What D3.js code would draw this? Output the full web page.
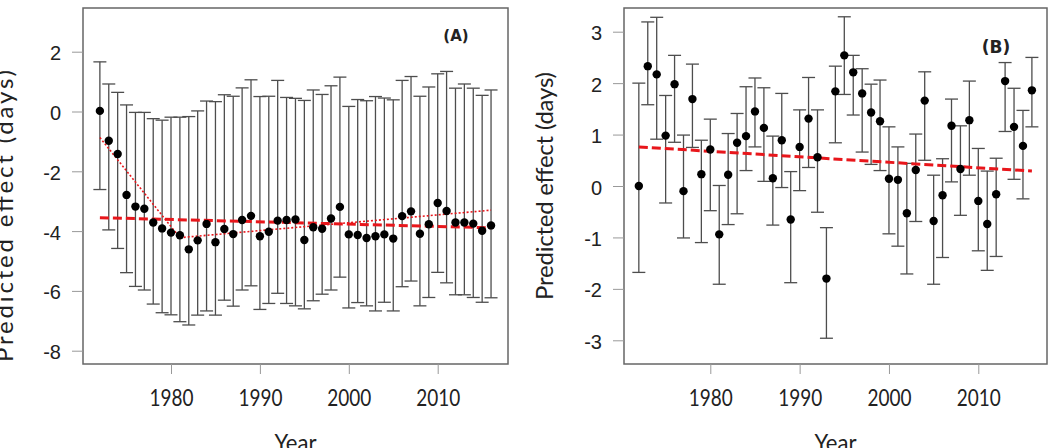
<!DOCTYPE html>
<html><head><meta charset="utf-8">
<script src="https://cdn.jsdelivr.net/npm/d3@7"></script>
<style>body{margin:0;background:#fff}svg{display:block}</style>
</head><body>
<script>
const years = d3.range(1972, 2017);
const estA = [0.02,-0.98,-1.42,-2.79,-3.18,-3.25,-3.71,-3.91,-4.05,-4.14,-4.61,-4.31,-3.76,-4.37,-3.93,-4.10,-3.63,-3.49,-4.17,-4.02,-3.65,-3.63,-3.61,-4.30,-3.87,-3.92,-3.58,-3.19,-4.11,-4.13,-4.23,-4.17,-4.11,-4.25,-3.50,-3.34,-4.09,-3.77,-3.06,-3.33,-3.71,-3.71,-3.75,-3.99,-3.81];
const hiA  = [1.66,0.92,0.64,0.22,-0.03,-0.03,-0.24,-0.29,-0.19,-0.19,-0.17,0.02,0.35,0.33,0.56,0.51,0.79,1.06,0.50,0.51,1.04,0.47,0.44,0.37,0.72,0.57,0.86,1.15,0.17,0.40,0.36,0.50,0.45,0.39,1.04,1.17,0.51,0.82,1.26,1.34,0.78,0.92,0.78,0.54,0.72];
const loA  = [-2.61,-3.96,-4.58,-5.39,-5.85,-5.97,-6.44,-6.73,-6.80,-7.03,-7.14,-6.81,-6.67,-6.81,-6.31,-6.51,-5.97,-5.83,-6.62,-6.42,-6.08,-6.42,-6.50,-6.60,-6.33,-6.11,-5.97,-5.54,-6.57,-6.39,-6.50,-6.67,-6.38,-6.67,-5.86,-5.67,-6.50,-6.22,-5.38,-5.73,-6.13,-6.13,-6.22,-6.38,-6.23];
const estB = [0.00,2.33,2.17,0.98,1.98,-0.10,1.69,0.23,0.71,-0.94,0.22,0.84,0.97,1.45,1.13,0.15,0.89,-0.65,0.76,1.31,0.56,-1.80,1.84,2.54,2.21,1.80,1.43,1.26,0.14,0.12,-0.53,0.31,1.66,-0.68,-0.18,1.17,0.33,1.28,-0.29,-0.74,-0.16,2.04,1.15,0.78,1.86];
const hiB  = [2.00,3.19,3.28,1.76,2.54,0.99,2.37,0.89,1.30,0.01,1.02,1.41,1.93,2.10,1.91,0.97,1.80,0.28,1.48,2.11,1.48,-0.81,2.33,3.29,2.54,2.28,1.98,2.06,1.15,0.76,0.44,1.01,2.22,0.21,0.53,1.69,1.17,2.04,0.73,0.29,0.54,2.40,1.90,1.47,2.50];
const loB  = [-1.68,1.58,0.91,-0.33,0.85,-1.01,0.75,-1.10,-0.48,-1.91,-0.75,-0.54,0.30,0.76,0.09,-0.76,-0.03,-1.88,-0.09,0.36,-0.51,-2.96,0.84,1.78,1.38,0.66,0.42,0.30,-0.93,-1.17,-1.71,-0.69,0.50,-1.91,-1.39,0.08,-0.57,0.21,-1.26,-1.64,-1.37,1.06,0.13,-0.25,1.15];
const trendA = [[1972,-3.55],[2016,-3.89]];
const segA   = [[1972,-0.87],[1981,-4.22],[2016,-3.30]];
const trendB = [[1972,0.76],[2016,0.29]];
const xTicks = [1980,1990,2000,2010];
const yTicksA = [-8,-6,-4,-2,0,2];
const yTicksB = [-3,-2,-1,0,1,2,3];

const W = 1048, H = 448;
const svg = d3.select("body").append("svg").attr("width", W).attr("height", H);

function panel(o) {
  const x = d3.scaleLinear().domain([1980, 2010]).range(o.xr);
  const y = d3.scaleLinear().domain(o.yd).range(o.yr);
  const g = svg.append("g");
  const eb = g.append("g").attr("stroke", "#4d4d4d").attr("stroke-width", 1.3).attr("fill", "none");
  years.forEach((yr, i) => {
    const cx = x(yr);
    eb.append("line").attr("x1", cx).attr("x2", cx).attr("y1", y(o.hi[i])).attr("y2", y(o.lo[i]));
    eb.append("line").attr("x1", cx - 6.5).attr("x2", cx + 6.5).attr("y1", y(o.hi[i])).attr("y2", y(o.hi[i]));
    eb.append("line").attr("x1", cx - 6.5).attr("x2", cx + 6.5).attr("y1", y(o.lo[i])).attr("y2", y(o.lo[i]));
  });
  const line = d3.line().x(d => x(d[0])).y(d => y(d[1]));
  o.lines.forEach(l => {
    g.append("path").attr("d", line(l.data)).attr("fill", "none")
      .attr("stroke", "#e8161b").attr("stroke-width", l.w).attr("stroke-dasharray", l.dash);
  });
  g.append("g").selectAll("circle").data(years).join("circle")
    .attr("cx", d => x(d)).attr("cy", (d, i) => y(o.est[i])).attr("r", 4.2).attr("fill", "#000");
  g.append("rect").attr("x", o.box[0]).attr("y", o.box[1])
    .attr("width", o.box[2] - o.box[0]).attr("height", o.box[3] - o.box[1])
    .attr("fill", "none").attr("stroke", "#666").attr("stroke-width", 1.5);
  const xa = g.append("g").attr("transform", `translate(0,${o.box[3]})`)
    .call(d3.axisBottom(x).tickValues(xTicks).tickFormat(d3.format("d")).tickSize(10));
  xa.select(".domain").remove();
  xa.selectAll(".tick line").attr("stroke", "#999");
  xa.selectAll(".tick text").attr("y", 42).attr("dy", 0)
    .attr("font-family", "Lato").attr("font-size", 24).attr("fill", "#222")
    .attr("textLength", 44).attr("lengthAdjust", "spacingAndGlyphs");
  const ya = g.append("g").attr("transform", `translate(${o.box[0]},0)`)
    .call(d3.axisLeft(y).tickValues(o.yt).tickFormat(d => d < 0 ? "-" + Math.abs(d) : String(d)).tickSize(11).tickPadding(11));
  ya.select(".domain").remove();
  ya.selectAll(".tick line").attr("stroke", "#999");
  ya.selectAll(".tick text").attr("font-family", "Liberation Sans").attr("font-size", 20).attr("fill", "#222").attr("dy", "0.4em");
  g.append("text").attr("x", (o.box[0] + o.box[2]) / 2).attr("y", 451).attr("text-anchor", "middle")
    .attr("font-family", "Lato").attr("font-size", 24).attr("fill", "#222")
    .attr("textLength", 42).attr("lengthAdjust", "spacingAndGlyphs").text("Year");
  g.append("text").attr("transform", `translate(${o.yt_x},${o.yt_c}) rotate(-90)`)
    .attr("text-anchor", "middle").attr("font-family", "Lato").attr("font-size", 24).attr("fill", "#222")
    .attr("textLength", o.yt_len).attr("lengthAdjust", "spacing").text("Predicted effect (days)");
  g.append("text").attr("x", o.lab[0]).attr("y", o.lab[1]).attr("text-anchor", "middle")
    .attr("font-family", "DejaVu Sans").attr("font-weight", "bold").attr("font-size", o.lab[2]).attr("fill", "#222")
    .text(o.label);
}

panel({
  xr: [171, 437.7], yd: [-8, 2], yr: [350.7, 51.7], box: [83, 8, 508, 364],
  est: estA, hi: hiA, lo: loA, yt: yTicksA,
  lines: [{data: trendA, w: 3, dash: "9,4"}, {data: segA, w: 1.6, dash: "2,2"}],
  yt_x: 13, yt_c: 216, yt_len: 292, label: "(A)", lab: [456, 41, 15]
});
panel({
  xr: [710.3, 978.3], yd: [-3, 3], yr: [340.3, 31.7], box: [624, 8, 1047, 364],
  est: estB, hi: hiB, lo: loB, yt: yTicksB,
  lines: [{data: trendB, w: 3, dash: "9,4"}],
  yt_x: 553, yt_c: 186, yt_len: 228, label: "(B)", lab: [996, 53, 17]
});
</script>
</body></html>
